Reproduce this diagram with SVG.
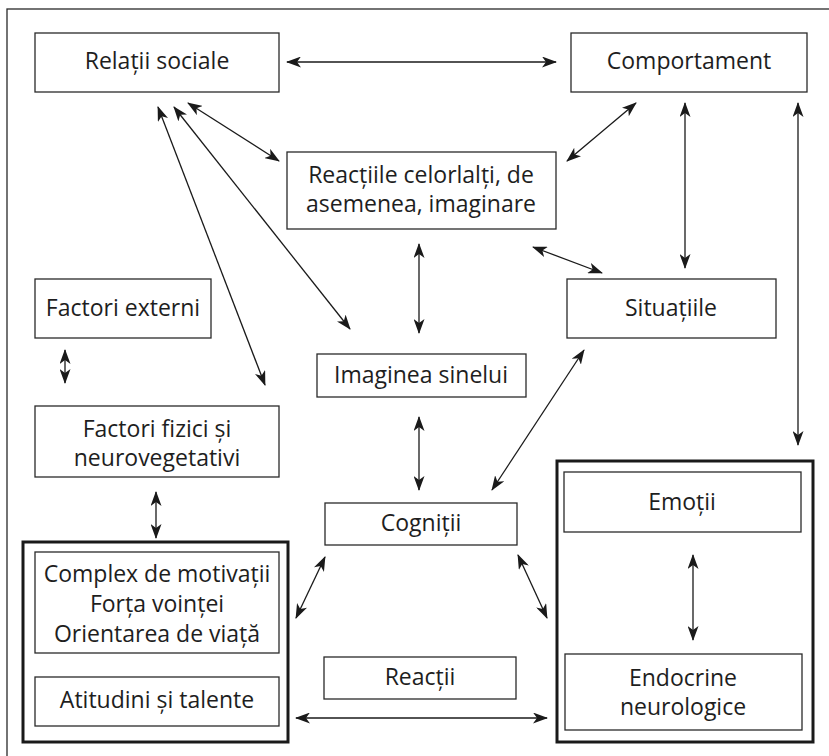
<svg xmlns="http://www.w3.org/2000/svg" width="829" height="756" viewBox="0 0 829 756">
<style>
.b{fill:#fff;stroke:#2a2a2a;stroke-width:1.3}
.t{fill:#fff;stroke:#1a1a1a;stroke-width:3}
.c line{stroke:#1a1a1a;stroke-width:1.3;marker-start:url(#a);marker-end:url(#a)}
text{font-family:"Open Sans","DejaVu Sans",sans-serif;font-size:23px;fill:#1e1e1e;text-anchor:middle}
</style>
<defs>
<marker id="a" viewBox="0 0 15 11" refX="14" refY="5.5" markerWidth="15" markerHeight="11" markerUnits="userSpaceOnUse" orient="auto-start-reverse">
<path d="M0,0 L15,5.5 L0,11 L4,5.5 z" fill="#1a1a1a"/>
</marker>
</defs>
<rect x="0" y="0" width="829" height="756" fill="#fff"/>
<rect x="7" y="9" width="840" height="770" fill="none" stroke="#2a2a2a" stroke-width="1.3"/>

<g id="relatii"><rect class="b" x="35" y="33" width="244" height="59"/><text x="157" y="69">Relații sociale</text></g>
<g id="comportament"><rect class="b" x="571" y="33" width="236" height="59"/><text x="689" y="69">Comportament</text></g>
<g id="reactiile"><rect class="b" x="287" y="152" width="269" height="77"/><text x="421" y="183">Reacțiile celorlalți, de</text><text x="421" y="212">asemenea, imaginare</text></g>
<g id="factori-externi"><rect class="b" x="35" y="279" width="176" height="59"/><text x="123" y="316">Factori externi</text></g>
<g id="situatiile"><rect class="b" x="567" y="279" width="209" height="59"/><text x="671" y="316">Situațiile</text></g>
<g id="imaginea"><rect class="b" x="317" y="354" width="209" height="43"/><text x="421" y="383">Imaginea sinelui</text></g>
<g id="factori-fizici"><rect class="b" x="35" y="406" width="244" height="71"/><text x="157" y="437">Factori fizici și</text><text x="157" y="466">neurovegetativi</text></g>
<g id="cognitii"><rect class="b" x="325" y="503" width="192" height="42"/><text x="421" y="531">Cogniții</text></g>
<g id="reactii"><rect class="b" x="324" y="657" width="192" height="42"/><text x="420" y="685">Reacții</text></g>
<g id="grup-stanga"><rect class="t" x="23" y="542" width="265" height="200"/>
<g id="complex"><rect class="b" x="35" y="552" width="244" height="101"/><text x="157" y="582">Complex de motivații</text><text x="157" y="612">Forța voinței</text><text x="157" y="642">Orientarea de viață</text></g>
<g id="atitudini"><rect class="b" x="35" y="677" width="244" height="49"/><text x="157" y="708">Atitudini și talente</text></g>
</g>
<g id="grup-dreapta"><rect class="t" x="557" y="461" width="256" height="281"/>
<g id="emotii"><rect class="b" x="564" y="472" width="237" height="60"/><text x="682" y="510">Emoții</text></g>
<g id="endocrine"><rect class="b" x="565" y="654" width="237" height="76"/><text x="683" y="686">Endocrine</text><text x="683" y="715">neurologice</text></g>
</g>

<g id="conectori" class="c">
<line x1="287" y1="62" x2="556" y2="62"/>
<line x1="188" y1="103" x2="279" y2="161"/>
<line x1="158" y1="107" x2="265" y2="385"/>
<line x1="174" y1="107" x2="350" y2="329"/>
<line x1="567" y1="161" x2="636" y2="103"/>
<line x1="685" y1="103" x2="685" y2="268"/>
<line x1="798" y1="103" x2="798" y2="445"/>
<line x1="419" y1="244" x2="419" y2="333"/>
<line x1="533" y1="247" x2="602" y2="273"/>
<line x1="65" y1="350" x2="65" y2="383"/>
<line x1="419" y1="417" x2="419" y2="490"/>
<line x1="492" y1="490" x2="584" y2="350"/>
<line x1="156" y1="492" x2="156" y2="538"/>
<line x1="325" y1="557" x2="296" y2="618"/>
<line x1="518" y1="555" x2="547" y2="618"/>
<line x1="296" y1="718" x2="547" y2="718"/>
<line x1="693" y1="555" x2="693" y2="640"/>
</g>
</svg>
